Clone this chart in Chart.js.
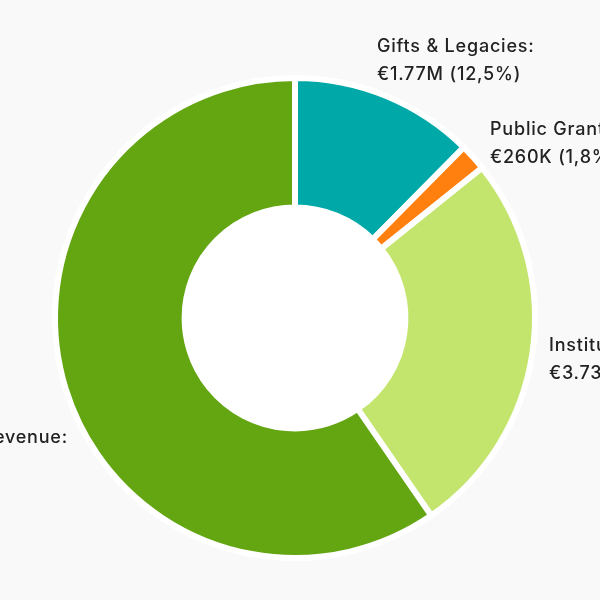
<!DOCTYPE html>
<html>
<head>
<meta charset="utf-8">
<script src="https://cdn.jsdelivr.net/npm/chart.js@4.4.1/dist/chart.umd.min.js"></script>
<style>
  html, body { margin: 0; padding: 0; background: #f9f9f9; }
  #wrap { width: 600px; height: 600px; position: relative; }
</style>
</head>
<body>
<div id="wrap"><canvas id="c" width="600" height="600"></canvas></div>
<script>
// Categories and values (in millions of €)
const categories = ['Gifts & Legacies', 'Public Grants', 'Institutional', 'Commercial & Trading Revenue'];
const values = [1.77, 0.26, 3.73, 8.50];
const valueLabels = ['€1.77M (12,5%)', '€260K (1,8%)', '€3.73M (26,3%)', '€8.50M (59,4%)'];
const colors = ['#00a9a8', '#ff7f0f', '#c4e56d', '#63a612'];

const FONT = '500 18px Inter, sans-serif';

const labelPlugin = {
  id: 'outLabels',
  beforeDatasetsDraw(chart) {
    const meta = chart.getDatasetMeta(0);
    const arc = meta.data[0];
    const ctx = chart.ctx;
    ctx.save();
    ctx.fillStyle = '#ffffff';
    ctx.beginPath();
    ctx.arc(arc.x, arc.y, arc.innerRadius + 2, 0, Math.PI * 2);
    ctx.fill();
    ctx.restore();
  },
  afterDraw(chart, args, opts) {
    const meta = chart.getDatasetMeta(0);
    const ctx = chart.ctx;
    ctx.save();
    ctx.font = FONT;
    if ('letterSpacing' in ctx) ctx.letterSpacing = '0.8px';
    ctx.fillStyle = '#222222';
    ctx.textBaseline = 'alphabetic';
    ctx.textAlign = 'left';
    meta.data.forEach((a, i) => {
      const p = opts.pos[i];
      const name = categories[i] + ':';
      let x = a.x + p.dx;
      if (p.alignEnd) x = x - ctx.measureText(name).width;
      const y = a.y + p.dy;
      ctx.fillText(name, x, y);
      ctx.fillText(valueLabels[i], x, y + opts.lineGap);
    });
    ctx.restore();
  }
};

new Chart(document.getElementById('c'), {
  type: 'doughnut',
  data: {
    labels: categories,
    datasets: [{
      data: values,
      backgroundColor: colors,
      borderColor: '#ffffff',
      borderWidth: 6,
      hoverOffset: 0
    }]
  },
  options: {
    responsive: false,
    animation: false,
    cutout: '46%',
    layout: { padding: { left: 52, right: 62, top: 75, bottom: 39 } },
    plugins: {
      legend: { display: false },
      tooltip: { enabled: false },
      outLabels: {
        lineGap: 28,
        pos: [
          { dx: 82, dy: -266.5 },
          { dx: 195, dy: -183 },
          { dx: 254, dy: 33 },
          { dx: -227, dy: 125, alignEnd: true }
        ]
      }
    }
  },
  plugins: [labelPlugin]
});
</script>
</body>
</html>
